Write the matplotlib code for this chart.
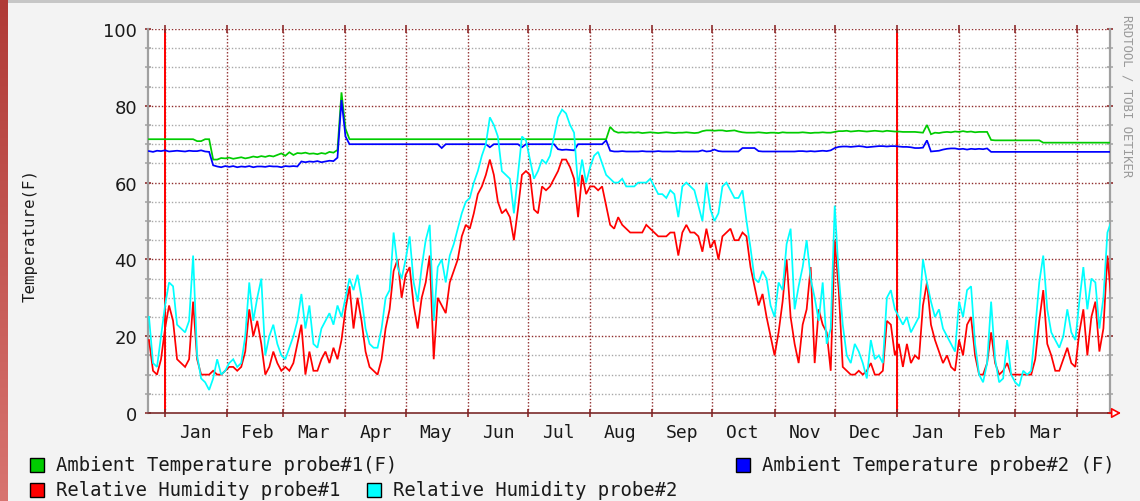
import numpy as np
import pandas as pd
import matplotlib
matplotlib.use('Agg')
import matplotlib.pyplot as plt
from matplotlib.patches import Rectangle

W, H = 1140, 502

# ---------------- data (one sample every 2 days) ----------------
start_date = '2009-12-24'
sample_freq = '2D'

temp_probe1 = [
    71.3, 71.3, 71.3, 71.3, 71.3, 71.3, 71.3, 71.3, 71.3, 71.3, 71.3, 71.3,
    70.8, 70.8, 71.3, 71.3,
    66.0, 66.0, 66.4, 66.3, 66.5, 66.2, 66.4, 66.6, 66.3, 66.5, 66.8, 66.6, 66.9, 66.7,
    67.0, 66.8, 67.2, 67.6, 67.0, 67.9, 67.2, 67.7,
    67.6, 67.8, 67.5,
    67.6, 67.4, 67.7, 67.5, 68.0, 67.8, 68.5, 83.5, 74.0,
    71.3, 71.3, 71.3, 71.3, 71.3, 71.3, 71.3, 71.3, 71.3, 71.3, 71.3, 71.3, 71.3, 71.3, 71.3, 71.3,
    71.3, 71.3, 71.3, 71.3, 71.3, 71.3, 71.3, 71.3, 71.3, 71.3, 71.3, 71.3, 71.3, 71.3, 71.3,
    71.3, 71.3, 71.3, 71.3, 71.3, 71.3, 71.3, 71.3, 71.3, 71.3, 71.3, 71.3, 71.3, 71.3, 71.3, 71.3, 71.3,
    71.3, 71.3, 71.3, 71.3, 71.3, 71.3, 71.3, 71.3, 71.3, 71.3, 71.3, 71.3, 71.3, 71.3, 71.3, 71.3, 71.3,
    74.5, 73.4, 73.0, 73.1, 73.0, 73.1,
    73.0, 73.1, 72.9, 73.0, 73.1, 73.0, 72.9, 73.0, 73.1, 73.0, 72.9, 73.0, 73.0, 73.1, 73.0, 72.9, 73.0, 73.4, 73.6,
    73.6, 73.5, 73.6, 73.6, 73.4, 73.5, 73.6, 73.3, 73.1, 73.0, 73.0,
    73.0, 73.1, 73.0, 72.9, 73.0, 73.0, 72.9, 73.1, 73.0, 73.0,
    73.0, 73.0, 73.1, 73.0, 72.9, 73.0, 73.0, 73.1, 73.0, 73.0, 73.2, 73.4, 73.4, 73.5, 73.3, 73.4, 73.5, 73.4,
    73.3, 73.4, 73.5, 73.4, 73.3, 73.5, 73.4, 73.3, 73.3, 73.2, 73.2, 73.2,
    73.2, 73.1, 73.0, 75.0, 72.6, 73.0, 72.9, 73.1, 73.2, 73.1,
    73.3, 73.2, 73.4, 73.2, 73.3, 73.1, 73.2, 73.2, 73.2,
    71.1,
    71.0, 71.0, 71.0, 71.0, 71.0, 71.0, 71.0, 71.0, 71.0, 71.0, 71.0, 71.0,
    70.4, 70.4, 70.4, 70.4, 70.4, 70.4, 70.4, 70.4, 70.4, 70.4, 70.4, 70.4, 70.4, 70.4, 70.4, 70.4, 70.4, 70.4,
]

temp_probe2 = [
    68.2, 68.0, 68.3, 68.2, 68.4, 68.1, 68.2, 68.3, 68.2, 68.1, 68.3, 68.2, 68.2, 68.4, 68.1, 68.0,
    64.5, 64.2, 64.0, 64.3, 64.1, 64.3, 64.0, 64.2, 64.1, 64.3, 64.0, 64.2, 64.2, 64.1, 64.3, 64.2,
    64.2, 64.0, 64.3, 64.2, 64.3, 64.2,
    65.5, 65.3, 65.5,
    65.4, 65.6, 65.3, 65.5, 65.7, 65.6, 66.5, 81.5, 72.0,
    70.0, 70.0, 70.0, 70.0, 70.0, 70.0, 70.0, 70.0, 70.0, 70.0, 70.0, 70.0, 70.0, 70.0, 70.0, 70.0,
    70.0, 70.0, 70.0, 70.0, 70.0, 70.0, 70.0,
    69.0,
    70.0, 70.0, 70.0, 70.0, 70.0, 70.0, 70.0,
    70.0, 70.0, 70.0, 70.0, 69.2, 70.0, 70.0, 70.0, 70.0, 70.0, 70.0, 70.0, 69.2,
    70.0, 70.0, 70.0, 70.0, 70.0, 70.0, 70.0, 70.0,
    68.7, 68.5, 68.6, 68.5, 68.4,
    70.0, 70.0, 70.0, 70.0, 70.0, 70.0, 70.0, 71.0,
    68.3, 68.1, 68.1, 68.2, 68.1, 68.1,
    68.1, 68.1, 68.2, 68.1, 68.1, 68.1, 68.2, 68.1, 68.1, 68.1, 68.1, 68.2, 68.1, 68.1, 68.1, 68.1,
    68.1, 68.4, 68.1, 68.2, 68.6, 68.2, 68.1, 68.1, 68.1, 68.1, 68.1, 69.0, 69.0, 69.0, 69.0, 68.2,
    68.1, 68.1, 68.1, 68.1, 68.1, 68.1, 68.1, 68.1,
    68.1, 68.2, 68.2, 68.1, 68.2, 68.1, 68.2, 68.3, 68.2, 68.4, 69.0, 69.3, 69.4, 69.4, 69.3, 69.4, 69.5, 69.4,
    69.2, 69.3, 69.4, 69.5, 69.5, 69.4, 69.5, 69.5, 69.4, 69.3, 69.3, 69.2, 69.0, 69.0, 69.1,
    71.0, 68.1, 68.2, 68.3, 68.6, 68.8, 68.9,
    68.9, 68.7, 68.8, 68.6, 68.8, 68.7, 68.8, 68.7, 68.9,
    68.0, 68.0, 68.0, 68.0, 68.0, 68.0, 68.0, 68.0, 68.0, 68.0, 68.0, 68.0, 68.0, 68.0, 68.0, 68.0,
    68.0, 68.0, 68.0, 68.0, 68.0, 68.0, 68.0, 68.0, 68.0, 68.0, 68.0, 68.0, 68.0, 68.0, 68.0,
]

humidity_probe1 = [
    19, 11, 10, 14, 22, 28, 24, 14, 13, 12, 14, 29, 14, 10, 10, 10, 11, 10, 10, 11,
    12, 12, 11, 12, 16, 27, 20, 24, 18, 10, 12, 16, 13, 11, 12, 11, 13, 18, 23, 10, 16,
    11, 11, 14, 16, 13, 17, 14, 19, 27, 33, 22, 30, 24, 16, 12, 11, 10, 14, 22, 27,
    37, 40, 30, 36, 38, 28, 22, 30, 34, 41, 14, 30, 28, 26, 34, 37, 40, 46, 49, 48,
    52, 57, 59, 62, 66, 62, 55, 52, 53, 51, 45, 53, 62, 63, 62, 53, 52, 59, 58, 59,
    61, 63, 66, 66, 64, 61, 51, 62, 57, 59, 59, 58, 59, 54, 49, 48, 51, 49, 48, 47,
    47, 47, 47, 49, 48, 47, 46, 46, 46, 47, 47, 41, 47, 49, 47, 47, 46, 42, 48, 43,
    45, 40, 46, 47, 48, 45, 45, 47, 46, 38, 33, 28, 31, 25, 20, 15, 21, 29, 40, 25,
    18, 13, 23, 27, 38, 13, 27, 23, 21, 11, 45, 32, 12, 11, 10, 10, 11, 10, 11, 13,
    10, 10, 11, 24, 23, 15, 18, 12, 18, 13, 15, 14, 28, 34, 23, 19, 16, 13, 15, 12,
    11, 19, 15, 23, 25, 15, 10, 10, 13, 21, 13, 10, 11, 13, 10, 10, 10, 10, 10, 10,
    14, 24, 32, 18, 15, 11, 11, 14, 17, 13, 12, 21, 27, 15, 25, 29, 16, 22, 41, 29,
]

humidity_probe2 = [
    25, 13, 12, 20, 28, 34, 33, 23, 22, 21, 24, 41, 15, 9, 8, 6, 9, 14, 10, 11,
    13, 14, 12, 13, 20, 34, 24, 30, 35, 15, 20, 23, 18, 15, 14, 17, 20, 24, 31, 22, 28,
    18, 17, 22, 24, 26, 23, 28, 25, 30, 35, 32, 36, 30, 22, 18, 17, 17, 22, 30, 32,
    47, 38, 35, 40, 46, 34, 29, 38, 45, 49, 24, 38, 40, 34, 41, 44, 48, 52, 55, 56,
    60, 63, 67, 70, 77, 75, 72, 63, 62, 61, 52, 62, 72, 71, 66, 61, 63, 66, 65, 67,
    72, 77, 79, 78, 75, 73, 59, 66, 60, 64, 67, 68, 65, 62, 61, 60, 60, 61, 59, 59,
    59, 60, 60, 60, 61, 59, 57, 57, 56, 58, 57, 51, 59, 60, 59, 58, 54, 50, 60, 53,
    50, 52, 59, 60, 58, 56, 56, 58, 50, 43, 35, 34, 37, 35, 28, 25, 34, 32, 44, 48,
    27, 33, 38, 45, 35, 30, 24, 34, 18, 22, 54, 36, 23, 15, 13, 18, 16, 13, 9, 19,
    14, 15, 13, 30, 32, 27, 25, 23, 25, 21, 23, 25, 40, 34, 29, 25, 27, 22, 20, 18,
    16, 29, 25, 32, 33, 18, 10, 8, 13, 29, 14, 8, 9, 19, 10, 8, 7, 11, 10, 11,
    22, 34, 41, 27, 21, 19, 17, 20, 27, 21, 19, 29, 38, 27, 35, 34, 22, 30, 47, 50,
]

series_labels = ['Ambient Temperature probe#1(F)', 'Ambient Temperature probe#2 (F)',
                 'Relative Humidity probe#1', 'Relative Humidity probe#2']
series_colors = ['#00CC00', '#0000FF', '#FF0000', '#00FFFF']
y_ticks = [0, 20, 40, 60, 80, 100]
y_minor_ticks = [5, 10, 15, 25, 30, 35, 45, 50, 55, 65, 70, 75, 85, 90, 95]
month_starts = pd.date_range('2010-01-01', '2011-04-01', freq='MS')
month_labels = ['Jan', 'Feb', 'Mar', 'Apr', 'May', 'Jun', 'Jul', 'Aug', 'Sep',
                'Oct', 'Nov', 'Dec', 'Jan', 'Feb', 'Mar']
year_rules = pd.to_datetime(['2010-01-01', '2011-01-01'])
x_start = pd.Timestamp('2009-12-23 12:00')
x_end = pd.Timestamp('2011-04-17 07:00')

dates = pd.date_range(start_date, periods=len(humidity_probe1), freq=sample_freq)

# ---------------- figure ----------------
MONO = 'DejaVu Sans Mono'
BG = '#F3F3F3'
MAJOR = '#8E2A2A'
MINOR = '#A8A8A8'

fig = plt.figure(figsize=(W / 100, H / 100), dpi=100, facecolor=BG)

# page decorations (left red strip, top gray band)
strip = fig.add_axes([0, 0, 8 / W, 1])
grad = np.linspace(0, 1, 256).reshape(-1, 1)
from matplotlib.colors import LinearSegmentedColormap
cm = LinearSegmentedColormap.from_list('s', ['#D87470', '#B03A36'])
strip.imshow(grad, aspect='auto', cmap=cm, extent=[0, 1, 0, 1], origin='lower')
strip.set_axis_off()
fig.patches.append(Rectangle((8 / W, 1 - 4 / H), 1, 4 / H, transform=fig.transFigure,
                             facecolor='#C6C6C6', edgecolor='none'))

ax = fig.add_axes([148 / W, 88 / H, (1110 - 148) / W, 384 / H])
ax.set_facecolor('white')

# grid
for v in y_minor_ticks:
    ax.axhline(v, color=MINOR, lw=1.0, ls=(0, (1, 1.4)), zorder=1)
for v in y_ticks[1:]:
    ax.axhline(v, color=MAJOR, lw=1.0, ls=(0, (1, 1.4)), zorder=1.2)
for d in month_starts:
    ax.axvline(d, color=MAJOR, lw=1.0, ls=(0, (1, 1.4)), zorder=1.2)
for d in year_rules:
    ax.axvline(d, color='#FF0000', lw=1.4, zorder=1.5)

series = [temp_probe1, temp_probe2, humidity_probe1, humidity_probe2]
for vals, col in zip(series, series_colors):
    ax.plot(dates, vals, color=col, lw=1.25, zorder=3, solid_joinstyle='miter')

ax.set_xlim(x_start, x_end)
ax.set_ylim(0, 100)

# ticks
ax.set_yticks(y_ticks)
ax.set_yticks(y_minor_ticks, minor=True)
ax.set_yticklabels([str(v) for v in y_ticks], fontsize=13, color='#1A1A1A',
                   family='DejaVu Sans')
ax.tick_params(axis='y', which='major', left=True, right=True, direction='inout',
               length=5, width=1.2, color=MAJOR, pad=5.5)
ax.tick_params(axis='y', which='minor', left=True, right=True, direction='inout',
               length=5, width=1.2, color=MINOR)

ax.set_xticks(month_starts)
ax.set_xticklabels([''] * len(month_starts))
mid_months = [d + pd.Timedelta(days=15) for d in month_starts[:-1]]
ax.set_xticks(mid_months, minor=True)
ax.set_xticklabels(month_labels, minor=True, fontsize=13, family=MONO, color='#1A1A1A')
ax.tick_params(axis='x', which='major', bottom=True, top=True, direction='inout',
               length=6, width=1.2, color=MAJOR)
ax.tick_params(axis='x', which='minor', length=0, pad=7)

for s in ['left', 'right']:
    ax.spines[s].set_color('#A0A0A0')
    ax.spines[s].set_linewidth(1.6)
ax.spines['top'].set_visible(False)
ax.spines['bottom'].set_color('#7A2A2A')
ax.spines['bottom'].set_linewidth(1.2)

# axis arrow
ax.annotate('', xy=(1121, 88), xytext=(1109, 88), xycoords='figure pixels',
            textcoords='figure pixels',
            arrowprops=dict(arrowstyle='-|>,head_length=0.55,head_width=0.3',
                            ec='#FF0000', fc='white', lw=1.2, shrinkA=0, shrinkB=0))

# labels
fig.text(30 / W, 1 - 235 / H, 'Temperature(F)', rotation=90, fontsize=11.3,
         family=MONO, color='#1A1A1A', ha='center', va='center')
fig.text(1127 / W, 1 - 96 / H, 'RRDTOOL / TOBI OETIKER', rotation=270, fontsize=8.8,
         family=MONO, color='#9A9A9A', ha='center', va='center')

# legend
legend_pos = [(30, 466), (736, 466), (30, 491), (367, 491)]
for (lx, ly), lab, col in zip(legend_pos, series_labels, series_colors):
    fig.patches.append(Rectangle((lx / W, 1 - (ly + 7) / H), 14 / W, 14 / H,
                                 transform=fig.transFigure, facecolor=col,
                                 edgecolor='black', lw=1.0))
    fig.text((lx + 26) / W, 1 - ly / H, lab, fontsize=13.6, family=MONO,
             color='#1A1A1A', ha='left', va='center')

fig.savefig('out.png', dpi=100, facecolor=BG)
